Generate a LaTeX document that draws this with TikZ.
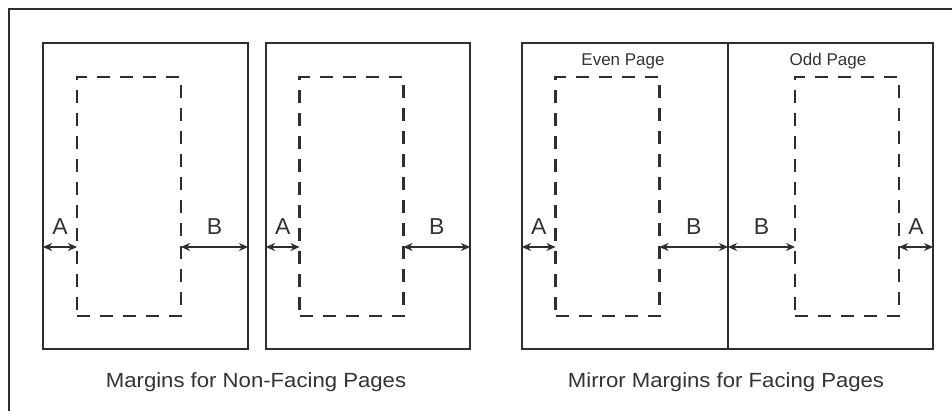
\documentclass[tikz,border=0pt]{standalone}
\usepackage{fontspec}
\setmainfont{Liberation Sans}
\newfontfamily\capfont{Liberation Sans}[FakeStretch=1.08]
\usetikzlibrary{arrows.meta}
\definecolor{ink}{HTML}{2E2E2E}
\definecolor{txt}{HTML}{333333}
\begin{document}
\begin{tikzpicture}[x=1pt,y=-1pt,
  pagebox/.style={draw=ink,line width=2.2pt,inner sep=0pt,outer sep=0pt,rectangle},
  textbox/.style={draw=ink,line width=2.2pt,dash pattern=on 13pt off 10pt,inner sep=0pt,outer sep=0pt,rectangle,minimum width=104pt,minimum height=239pt},
  dim/.style={draw=ink,line width=1.8pt,{Stealth[length=9pt,width=8pt]}-{Stealth[length=9pt,width=8pt]}},
  dimlabel/.style={text=txt,font=\fontsize{23}{25}\selectfont,inner sep=0pt},
  caption/.style={text=txt,font=\capfont\fontsize{20.5}{24}\selectfont,inner sep=0pt},
  pagelabel/.style={text=txt,font=\fontsize{17}{20}\selectfont,inner sep=0pt}]
\useasboundingbox (0,0) rectangle (952,411);
\fill[white] (0,0) rectangle (952,411);
% outer frame (top and left only visible)
\coordinate (fr) at (952,9);
\coordinate (fc) at (9,9);
\coordinate (fb) at (9,411);
\draw[ink,line width=2.2pt] (fr) -- (fc) -- (fb);

% non-facing pages
\node[pagebox,minimum width=205pt,minimum height=306pt] (p1) at (145.5,196) {};
\node[textbox] (d1) at (129,196.5) {};
\node[pagebox,minimum width=204pt,minimum height=306pt] (p2) at (368,196) {};
\node[textbox] (d2) at (351.5,196.5) {};

% facing pages
\node[pagebox,minimum width=411pt,minimum height=306pt] (p3) at (727.5,196) {};
\coordinate (divt) at (728,43);
\coordinate (divb) at (728,349);
\draw[ink,line width=2.2pt] (divt) -- (divb);
\node[textbox] (d3) at (607.5,196.5) {};
\node[textbox] (d4) at (847,196.5) {};
\node[pagelabel] (even) at (623,61) {Even Page};
\node[pagelabel] (odd) at (828,61) {Odd Page};

% dimension arrows
\coordinate (ay) at (0,247);
\draw[dim] (p1.west |- ay) -- (d1.west |- ay) node[dimlabel,midway,yshift=20pt] (a1) {A};
\draw[dim] (d1.east |- ay) -- (p1.east |- ay) node[dimlabel,midway,yshift=20pt] (b1) {B};
\draw[dim] (p2.west |- ay) -- (d2.west |- ay) node[dimlabel,midway,yshift=20pt] (a2) {A};
\draw[dim] (d2.east |- ay) -- (p2.east |- ay) node[dimlabel,midway,yshift=20pt] (b2) {B};
\draw[dim] (p3.west |- ay) -- (d3.west |- ay) node[dimlabel,midway,yshift=20pt] (a3) {A};
\draw[dim] (d3.east |- ay) -- (divt |- ay) node[dimlabel,midway,yshift=20pt] (b3) {B};
\draw[dim] (divt |- ay) -- (d4.west |- ay) node[dimlabel,midway,yshift=20pt] (b4) {B};
\draw[dim] (d4.east |- ay) -- (p3.east |- ay) node[dimlabel,midway,yshift=20pt] (a4) {A};

% captions
\node[caption] (c1) at (256,382) {Margins for Non-Facing Pages};
\node[caption] (c2) at (726,382) {Mirror Margins for Facing Pages};
\end{tikzpicture}
\end{document}
